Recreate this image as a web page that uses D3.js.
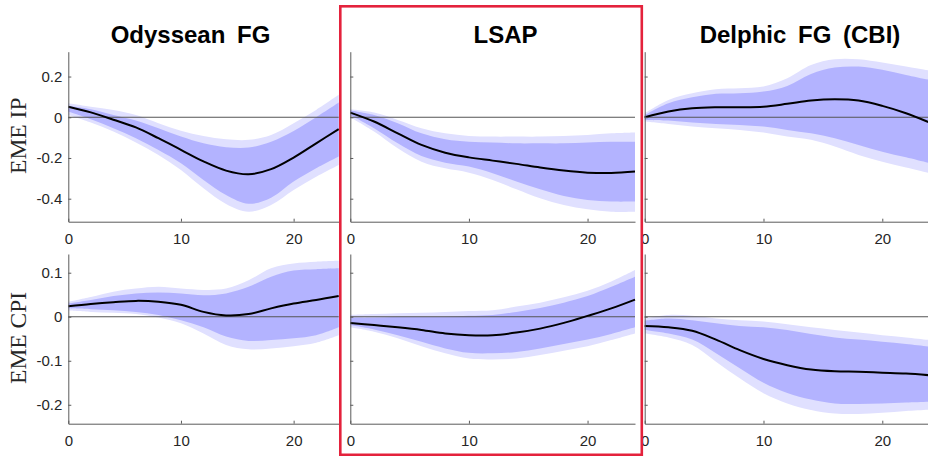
<!DOCTYPE html>
<html>
<head>
<meta charset="utf-8">
<script src="https://cdn.jsdelivr.net/npm/d3@7"></script>
<style>
  body { margin: 0; background: #fff; }
  svg { display: block; }
</style>
</head>
<body>
<svg id="chart" width="928" height="456"></svg>
<script>
// Impulse responses of euro-area periphery (EME) IP and CPI to three shocks,
// with 68% (dark) and 90% (light) credible bands. Horizon in months.
const horizons = [0, 2, 4, 6, 8, 10, 12, 14, 16, 18, 20, 22, 24];

const shockTitles = ["Odyssean FG", "LSAP", "Delphic FG (CBI)"];
const variableLabels = ["EME IP", "EME CPI"];

const xTickValues = [0, 10, 20];
const ipTickValues = [-0.4, -0.2, 0, 0.2];
const ipTickLabels = ["-0.4", "-0.2", "0", "0.2"];
const cpiTickValues = [-0.2, -0.1, 0, 0.1];
const cpiTickLabels = ["-0.2", "-0.1", "0", "0.1"];

// Odyssean FG -> EME IP
const odyIP_mid  = [0.052, 0.024, -0.012, -0.050, -0.103, -0.160, -0.217, -0.262, -0.280, -0.255, -0.198, -0.128, -0.058];
const odyIP_hi68 = [0.056, 0.039, 0.011, -0.016, -0.054, -0.095, -0.128, -0.147, -0.149, -0.120, -0.067, 0.000, 0.072];
const odyIP_lo68 = [0.028, -0.010, -0.054, -0.103, -0.161, -0.226, -0.308, -0.382, -0.425, -0.395, -0.316, -0.251, -0.193];
const odyIP_hi90 = [0.069, 0.052, 0.036, 0.011, -0.029, -0.066, -0.092, -0.108, -0.111, -0.087, -0.029, 0.036, 0.110];
const odyIP_lo90 = [0.011, -0.026, -0.070, -0.124, -0.185, -0.259, -0.349, -0.426, -0.464, -0.431, -0.357, -0.292, -0.234];

// LSAP -> EME IP
const lsapIP_mid  = [0.023, -0.021, -0.079, -0.136, -0.174, -0.197, -0.213, -0.229, -0.247, -0.262, -0.272, -0.274, -0.267];
const lsapIP_hi68 = [0.033, 0.011, -0.029, -0.079, -0.108, -0.120, -0.124, -0.128, -0.128, -0.128, -0.124, -0.120, -0.120];
const lsapIP_lo68 = [0.011, -0.054, -0.128, -0.190, -0.223, -0.242, -0.275, -0.316, -0.354, -0.387, -0.406, -0.414, -0.414];
const lsapIP_hi90 = [0.039, 0.023, -0.013, -0.054, -0.079, -0.092, -0.095, -0.095, -0.095, -0.092, -0.087, -0.079, -0.075];
const lsapIP_lo90 = [0.000, -0.070, -0.152, -0.218, -0.251, -0.272, -0.308, -0.354, -0.398, -0.431, -0.452, -0.464, -0.464];

// Delphic FG (CBI) -> EME IP
const delIP_mid  = [0.000, 0.028, 0.044, 0.049, 0.049, 0.052, 0.066, 0.082, 0.088, 0.082, 0.056, 0.020, -0.026];
const delIP_hi68 = [0.011, 0.069, 0.098, 0.115, 0.118, 0.126, 0.154, 0.213, 0.244, 0.249, 0.233, 0.208, 0.183];
const delIP_lo68 = [-0.013, -0.016, -0.026, -0.033, -0.038, -0.046, -0.062, -0.079, -0.103, -0.136, -0.169, -0.197, -0.226];
const delIP_hi90 = [0.020, 0.085, 0.118, 0.138, 0.143, 0.151, 0.192, 0.257, 0.285, 0.285, 0.269, 0.249, 0.229];
const delIP_lo90 = [-0.021, -0.033, -0.046, -0.054, -0.062, -0.075, -0.095, -0.111, -0.144, -0.185, -0.218, -0.247, -0.275];

// Odyssean FG -> EME CPI
const odyCPI_mid  = [0.024, 0.029, 0.033, 0.036, 0.034, 0.027, 0.011, 0.003, 0.006, 0.019, 0.030, 0.038, 0.047];
const odyCPI_hi68 = [0.030, 0.038, 0.047, 0.053, 0.055, 0.053, 0.049, 0.053, 0.068, 0.091, 0.105, 0.108, 0.110];
const odyCPI_lo68 = [0.019, 0.017, 0.015, 0.011, 0.004, -0.008, -0.024, -0.045, -0.055, -0.053, -0.049, -0.042, -0.024];
const odyCPI_hi90 = [0.034, 0.045, 0.057, 0.064, 0.068, 0.064, 0.061, 0.064, 0.083, 0.110, 0.121, 0.125, 0.127];
const odyCPI_lo90 = [0.014, 0.011, 0.009, 0.006, -0.002, -0.015, -0.038, -0.064, -0.074, -0.072, -0.067, -0.059, -0.042];

// LSAP -> EME CPI
const lsapCPI_mid  = [-0.014, -0.019, -0.024, -0.030, -0.038, -0.042, -0.042, -0.036, -0.027, -0.014, 0.002, 0.019, 0.039];
const lsapCPI_hi68 = [-0.002, -0.002, 0.000, 0.000, 0.000, 0.002, 0.004, 0.011, 0.020, 0.032, 0.047, 0.068, 0.091];
const lsapCPI_lo68 = [-0.019, -0.029, -0.042, -0.057, -0.072, -0.082, -0.083, -0.080, -0.072, -0.062, -0.052, -0.039, -0.024];
const lsapCPI_hi90 = [0.004, 0.006, 0.008, 0.009, 0.011, 0.013, 0.015, 0.023, 0.032, 0.044, 0.059, 0.080, 0.106];
const lsapCPI_lo90 = [-0.024, -0.034, -0.049, -0.067, -0.083, -0.095, -0.097, -0.095, -0.087, -0.077, -0.067, -0.053, -0.038];

// Delphic FG (CBI) -> EME CPI
const delCPI_mid  = [-0.021, -0.024, -0.032, -0.052, -0.076, -0.096, -0.110, -0.120, -0.124, -0.125, -0.127, -0.129, -0.133];
const delCPI_hi68 = [-0.009, -0.004, -0.008, -0.015, -0.021, -0.024, -0.030, -0.039, -0.047, -0.052, -0.057, -0.062, -0.068];
const delCPI_lo68 = [-0.030, -0.038, -0.052, -0.083, -0.117, -0.150, -0.173, -0.188, -0.197, -0.198, -0.197, -0.195, -0.193];
const delCPI_hi90 = [-0.004, 0.004, 0.002, -0.004, -0.008, -0.011, -0.017, -0.024, -0.030, -0.036, -0.042, -0.047, -0.053];
const delCPI_lo90 = [-0.038, -0.047, -0.064, -0.102, -0.140, -0.174, -0.197, -0.212, -0.220, -0.221, -0.218, -0.214, -0.211];

// Panel table: one entry per (variable row, shock column)
const panels = [
  { row: 0, col: 0, mid: odyIP_mid,   hi68: odyIP_hi68,   lo68: odyIP_lo68,   hi90: odyIP_hi90,   lo90: odyIP_lo90 },
  { row: 0, col: 1, mid: lsapIP_mid,  hi68: lsapIP_hi68,  lo68: lsapIP_lo68,  hi90: lsapIP_hi90,  lo90: lsapIP_lo90 },
  { row: 0, col: 2, mid: delIP_mid,   hi68: delIP_hi68,   lo68: delIP_lo68,   hi90: delIP_hi90,   lo90: delIP_lo90 },
  { row: 1, col: 0, mid: odyCPI_mid,  hi68: odyCPI_hi68,  lo68: odyCPI_lo68,  hi90: odyCPI_hi90,  lo90: odyCPI_lo90 },
  { row: 1, col: 1, mid: lsapCPI_mid, hi68: lsapCPI_hi68, lo68: lsapCPI_lo68, hi90: lsapCPI_hi90, lo90: lsapCPI_lo90 },
  { row: 1, col: 2, mid: delCPI_mid,  hi68: delCPI_hi68,  lo68: delCPI_lo68,  hi90: delCPI_hi90,  lo90: delCPI_lo90 }
];

// Layout
const colRanges = [[68.3, 338.7], [350.3, 635], [644.7, 929.8]];
const rowRanges = [[221.7, 51.7], [423.7, 254]];
const rowDomains = [[-0.513, 0.322], [-0.243, 0.1425]];
const rowTicks = [ipTickValues, cpiTickValues];
const rowTickLabels = [ipTickLabels, cpiTickLabels];
const titleCenters = [190.5, 505.5, 800];

const COLORS = {
  band90: "#e0e0ff",
  band68: "#b3b3ff",
  line: "#000000",
  zero: "#555555",
  axis: "#5a5a5a",
  text: "#262626",
  highlight: "#e4223c"
};

const svg = d3.select("#chart");

const curve = d3.curveCatmullRom.alpha(0.5);

panels.forEach(p => {
  const x = d3.scaleLinear().domain([0, 24]).range(colRanges[p.col]);
  const y = d3.scaleLinear().domain(rowDomains[p.row]).range(rowRanges[p.row]);
  const g = svg.append("g");

  const area = (lo, hi) => d3.area()
    .x((d, i) => x(horizons[i]))
    .y0((d, i) => y(lo[i]))
    .y1((d, i) => y(hi[i]))
    .curve(curve)(horizons);

  g.append("path").attr("d", area(p.lo90, p.hi90)).attr("fill", COLORS.band90);
  g.append("path").attr("d", area(p.lo68, p.hi68)).attr("fill", COLORS.band68);

  // zero line
  g.append("line")
    .attr("x1", x(0)).attr("x2", x(24))
    .attr("y1", y(0)).attr("y2", y(0))
    .attr("stroke", COLORS.zero).attr("stroke-width", 1.1);

  // median response
  const line = d3.line()
    .x((d, i) => x(horizons[i]))
    .y(d => y(d))
    .curve(curve);
  g.append("path").attr("d", line(p.mid))
    .attr("fill", "none").attr("stroke", COLORS.line).attr("stroke-width", 2);

  // x axis: inward ticks
  const xAxis = d3.axisBottom(x).tickValues(xTickValues).tickSizeInner(-3).tickSizeOuter(0)
    .tickFormat(d3.format("d"));
  const xg = g.append("g").attr("transform", `translate(0,${rowRanges[p.row][0]})`).call(xAxis);
  xg.select(".domain").attr("stroke", COLORS.axis);
  xg.selectAll(".tick line").attr("stroke", COLORS.axis);
  xg.selectAll(".tick text")
    .attr("fill", COLORS.text)
    .attr("font-family", "'Liberation Sans', Arial, sans-serif")
    .attr("font-size", 15)
    .attr("dy", "0.71em")
    .attr("y", 11.5);

  // y axis: line with inward ticks; labels only on the first column
  const yAxis = d3.axisLeft(y).tickValues(rowTicks[p.row]).tickSizeInner(-3).tickSizeOuter(0)
    .tickFormat((d, i) => p.col === 0 ? rowTickLabels[p.row][i] : "");
  const yg = g.append("g").attr("transform", `translate(${colRanges[p.col][0]},0)`).call(yAxis);
  yg.select(".domain").attr("stroke", COLORS.axis);
  yg.selectAll(".tick line").attr("stroke", COLORS.axis);
  yg.selectAll(".tick text")
    .attr("fill", COLORS.text)
    .attr("font-family", "'Liberation Sans', Arial, sans-serif")
    .attr("font-size", 15)
    .attr("x", -6);
});

// column titles
shockTitles.forEach((t, c) => {
  svg.append("text")
    .attr("x", titleCenters[c]).attr("y", 42.5)
    .attr("text-anchor", "middle")
    .attr("font-family", "'Liberation Sans', Arial, sans-serif")
    .attr("font-weight", "bold")
    .attr("font-size", 24)
    .attr("word-spacing", 5)
    .attr("fill", "#000")
    .text(t);
});

// row labels
variableLabels.forEach((t, r) => {
  const cy = (rowRanges[r][0] + rowRanges[r][1]) / 2 - 1;
  svg.append("text")
    .attr("transform", `translate(25.5,${cy}) rotate(-90)`)
    .attr("text-anchor", "middle")
    .attr("font-family", "'Liberation Serif', 'Times New Roman', serif")
    .attr("font-size", 23.5)
    .attr("fill", COLORS.text)
    .text(t);
});

// highlight frame around the LSAP column
svg.append("rect")
  .attr("x", 340.3).attr("y", 6.3)
  .attr("width", 301.5).attr("height", 448.5)
  .attr("fill", "none")
  .attr("stroke", COLORS.highlight)
  .attr("stroke-width", 2.6);
</script>
</body>
</html>
